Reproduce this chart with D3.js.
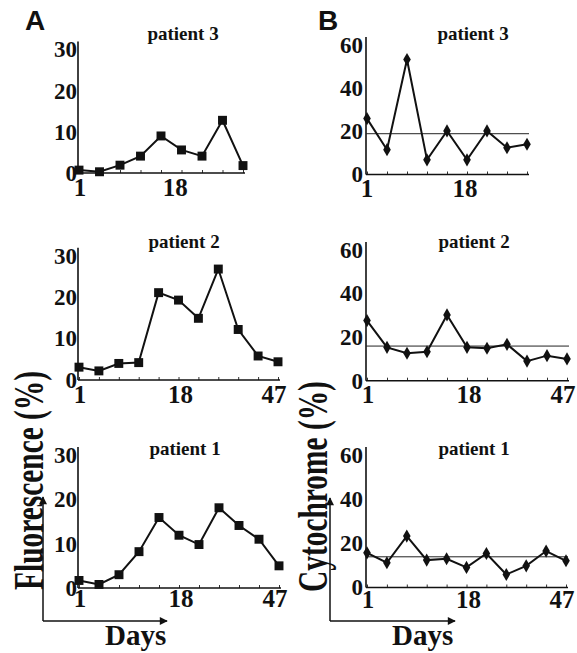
<html>
<head>
  <style>
    body { margin: 0; background: #fff; }
    text { font-family: "Liberation Serif", "Times New Roman", serif; font-weight: bold; fill: #111; }
  </style>
</head>
<body>
<div id="mydiv"></div>
<script src="https://d3js.org/d3.v7.min.js"></script>
<script>

let width = 577, height = 653;

// values (one sample per tick)
var fluorP3 = [0.7, 0.3, 1.9, 4.1, 9.0, 5.6, 4.1, 12.8, 1.8];
var fluorP2 = [3.1, 2.2, 4.0, 4.2, 21.1, 19.3, 14.9, 26.8, 12.2, 5.8, 4.4];
var fluorP1 = [1.7, 0.8, 3.0, 8.2, 15.9, 11.9, 9.8, 18.1, 14.1, 11.0, 5.0];
var cytoP3 = [25.9, 11.5, 53.3, 6.8, 20.2, 6.8, 20.2, 12.4, 14.0];
var cytoP2 = [27.6, 15.3, 12.6, 13.3, 30.2, 15.3, 14.9, 16.7, 9.0, 11.5, 10.0];
var cytoP1 = [15.7, 11.2, 23.3, 12.4, 13.0, 9.1, 15.4, 5.9, 9.8, 16.5, 12.1];
var cytoMean = [18.9, 15.9, 13.9];   // thin reference lines, patient 3/2/1

var fluorTicks = [0, 10, 20, 30];
var cytoTicks = [0, 20, 40, 60];
var dayLabels3 = ["1", "18"];
var dayLabels = ["1", "18", "47"];
var dayAt3 = [0.05, 4.7];          // where the day labels sit, in sample index
var dayAt = [0.05, 5.1, 9.8];

let svg = d3.select("#mydiv")
  .append("svg")
  .attr("width", width)
  .attr("height", height)
  .style("background", "#fff");

function drawPanel(p) {
  let g = svg.append("g");
  let x = d3.scaleLinear().domain([0, p.values.length - 1]).range([p.left + 1, p.last]);
  let y = d3.scaleLinear().domain([0, p.ticks[p.ticks.length - 1]]).range([p.y0, p.yTop]);

  // y axis: labels only, own line
  let ya = g.append("g")
    .attr("transform", "translate(" + p.left + ",0)")
    .call(d3.axisLeft(y).tickValues(p.ticks).tickSize(0).tickPadding(p.pad));
  ya.select(".domain").remove();
  ya.selectAll("text")
    .style("font-family", "Liberation Serif")
    .style("font-weight", "bold")
    .style("font-size", "23px")
    .attr("fill", "#111");

  g.append("line")
    .attr("x1", p.left).attr("x2", p.left)
    .attr("y1", y(0)).attr("y2", y.range()[1] - 8)
    .attr("stroke", "#111").attr("stroke-width", 1.6);

  // x axis: small ticks at every sample
  let xa = g.append("g")
    .attr("transform", "translate(0," + p.y0 + ")")
    .call(d3.axisBottom(x).tickValues(d3.range(p.values.length)).tickSize(-3).tickFormat(""));
  xa.select(".domain").remove();
  xa.selectAll("line").attr("stroke", "#333").attr("stroke-width", 1);

  g.append("line")
    .attr("x1", p.left).attr("x2", p.last + 2)
    .attr("y1", p.y0).attr("y2", p.y0)
    .attr("stroke", "#111").attr("stroke-width", 1.6);

  g.selectAll(".daylab")
    .data(p.dayLabels)
    .enter()
    .append("text")
    .attr("x", (d, i) => x(p.dayAt[i]))
    .attr("y", p.y0 + p.labOff)
    .attr("text-anchor", "middle")
    .style("font-size", "25px")
    .text(d => d);

  // title
  g.append("text")
    .attr("x", p.left + p.titleDx)
    .attr("y", p.titleY)
    .attr("text-anchor", "middle")
    .style("font-size", "19px")
    .text(p.title);

  if (p.mean != null) {
    g.append("line")
      .attr("x1", p.left).attr("x2", p.last + 2)
      .attr("y1", y(p.mean)).attr("y2", y(p.mean))
      .attr("stroke", "#222").attr("stroke-width", 1);
  }

  let line = d3.line().x((d, i) => x(i)).y(d => y(d));
  g.append("path")
    .datum(p.values)
    .attr("d", line)
    .attr("fill", "none")
    .attr("stroke", "#111")
    .attr("stroke-width", 2);

  let sym = p.square ? d3.symbol().type(d3.symbolSquare).size(80)
                     : d3.symbol().type(d3.symbolDiamond).size(50);
  g.selectAll(".pt")
    .data(p.values)
    .enter()
    .append("path")
    .attr("d", sym)
    .attr("transform", (d, i) => "translate(" + x(i) + "," + y(d) + ")")
    .attr("fill", "#111");
}

// column A, fluorescence
drawPanel({ values: fluorP3, ticks: fluorTicks, left: 78, last: 243, y0: 173, yTop: 49.5, pad: 1,
  dayLabels: dayLabels3, dayAt: dayAt3, labOff: 23, title: "patient 3", titleDx: 105, titleY: 40, square: true });
drawPanel({ values: fluorP2, ticks: fluorTicks, left: 78, last: 278, y0: 380, yTop: 255.8, pad: 1,
  dayLabels: dayLabels, dayAt: dayAt, labOff: 23, title: "patient 2", titleDx: 106, titleY: 248, square: true });
drawPanel({ values: fluorP1, ticks: fluorTicks, left: 78, last: 279, y0: 588, yTop: 455, pad: 1,
  dayLabels: dayLabels, dayAt: dayAt, labOff: 19, title: "patient 1", titleDx: 107, titleY: 455, square: true });

// column B, cytochrome
drawPanel({ values: cytoP3, ticks: cytoTicks, left: 366, last: 527, y0: 174.5, yTop: 45, pad: 3,
  dayLabels: dayLabels3, dayAt: [0, 4.9], labOff: 22, title: "patient 3", titleDx: 107, titleY: 40, square: false, mean: cytoMean[0] });
drawPanel({ values: cytoP2, ticks: cytoTicks, left: 366, last: 567, y0: 380.7, yTop: 250, pad: 3,
  dayLabels: dayLabels, dayAt: dayAt, labOff: 22, title: "patient 2", titleDx: 108, titleY: 248, square: false, mean: cytoMean[1] });
drawPanel({ values: cytoP1, ticks: cytoTicks, left: 366, last: 566, y0: 587.5, yTop: 455, pad: 3,
  dayLabels: dayLabels, dayAt: dayAt, labOff: 20, title: "patient 1", titleDx: 108, titleY: 455, square: false, mean: cytoMean[2] });

// panel letters
svg.append("text").attr("x", 25).attr("y", 30)
  .style("font-family", "Liberation Sans").style("font-size", "28px").text("A");
svg.append("text").attr("x", 318).attr("y", 30)
  .style("font-family", "Liberation Sans").style("font-size", "28px").text("B");

// arrows + axis titles
let defs = svg.append("defs");
defs.append("marker")
  .attr("id", "arr")
  .attr("viewBox", "0 0 10 10")
  .attr("refX", 9).attr("refY", 5)
  .attr("markerWidth", 10).attr("markerHeight", 8)
  .attr("markerUnits", "userSpaceOnUse")
  .attr("orient", "auto")
  .append("path")
  .attr("d", "M0,0 L10,5 L0,10 z")
  .attr("fill", "#111");

function corner(ox, oy, up, right, label, days) {
  svg.append("line").attr("x1", ox).attr("y1", oy).attr("x2", ox).attr("y2", up)
    .attr("stroke", "#111").attr("stroke-width", 1.5).attr("marker-end", "url(#arr)");
  svg.append("line").attr("x1", ox).attr("y1", oy).attr("x2", right).attr("y2", oy)
    .attr("stroke", "#111").attr("stroke-width", 1.5).attr("marker-end", "url(#arr)");
  svg.append("text")
    .attr("transform", "translate(" + label[0] + "," + label[1] + ") rotate(-90) scale(0.7,1)")
    .style("font-size", "42px")
    .text(label[2]);
  svg.append("text").attr("x", days).attr("y", 645)
    .style("font-size", "29px").text("Days");
}
corner(43, 621, 497, 167, [43, 590, "Fluorescence (%)"], 105);
corner(330, 621, 498, 455, [327, 592, "Cytochrome (%)"], 392);

</script>
</body>
</html>
